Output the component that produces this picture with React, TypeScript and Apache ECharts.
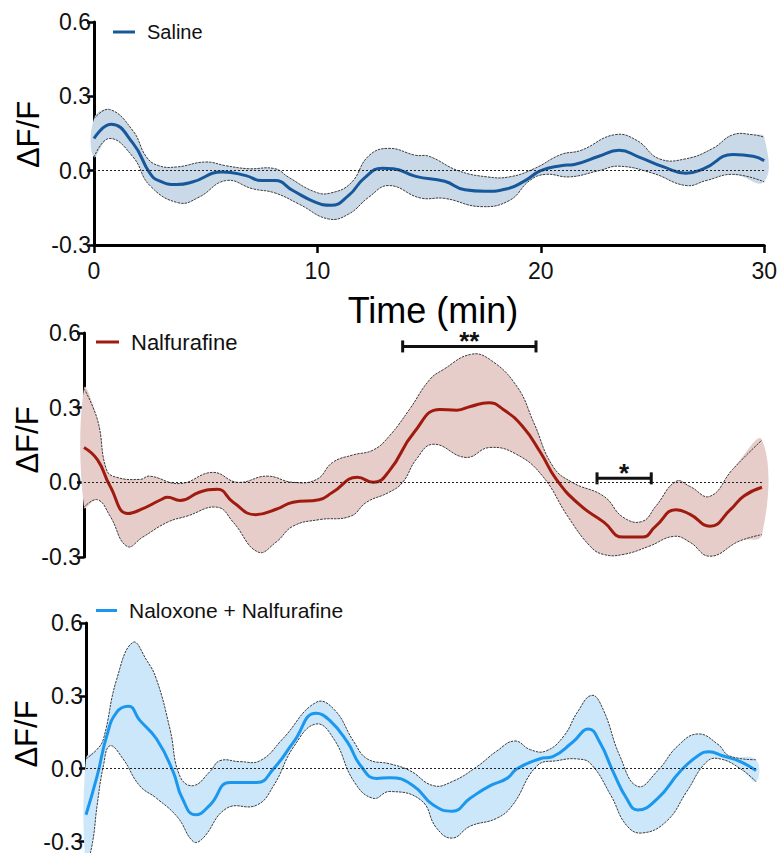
import React, { useEffect, useRef } from 'react';
import * as echarts from 'echarts';

// Time (min) / ΔF/F pairs for the group mean and the upper / lower SEM bounds
const salineMean = [
  [0, 0.13], [0.76, 0.187], [1.75, 0.11], [2.5, -0.01], [2.9, -0.04], [3.7, -0.056], [4.4, -0.046],
  [5.75, -0.005], [6.8, -0.02], [7.5, -0.04], [8.1, -0.04], [8.9, -0.08], [9.9, -0.127], [10.6, -0.14],
  [11.4, -0.1], [12.1, -0.03], [12.9, 0.01], [13.4, 0.008], [14.4, -0.023], [15.7, -0.043], [16.6, -0.077],
  [17.5, -0.083], [18.5, -0.073], [19.3, -0.04], [20.0, 0.0], [20.9, 0.02], [21.5, 0.025], [22.6, 0.058],
  [23.5, 0.082], [24.4, 0.055], [25.5, 0.015], [26.5, -0.01], [27.3, 0.008], [28.6, 0.065], [29.5, 0.058],
  [30, 0.04],
];
const salineUpper = [
  [0, 0.21], [0.7, 0.247], [1.75, 0.16], [2.35, 0.055], [2.9, 0.02], [3.7, 0.015], [5.0, 0.035],
  [5.9, 0.02], [6.9, 0.008], [8.1, 0.008], [8.7, -0.026], [9.9, -0.086], [10.6, -0.09], [11.5, -0.05],
  [12.3, 0.06], [13.2, 0.09], [14.4, 0.062], [15.0, 0.058], [16.3, 0.0], [17.6, -0.025], [18.6, -0.025],
  [19.7, 0.008], [20.9, 0.065], [21.8, 0.082], [23.3, 0.145], [24.3, 0.122], [25.3, 0.048], [26.5, 0.048],
  [27.7, 0.09], [28.6, 0.145], [29.5, 0.145], [30, 0.135],
];
const salineLower = [
  [0, 0.055], [0.7, 0.13], [1.75, 0.055], [2.5, -0.06], [3.8, -0.13], [4.7, -0.107], [5.9, -0.04],
  [7.1, -0.073], [8.1, -0.09], [9.2, -0.136], [10.5, -0.195], [11.4, -0.175], [12.3, -0.107], [13.2, -0.06],
  [14.6, -0.11], [15.7, -0.112], [17.3, -0.145], [18.6, -0.12], [19.5, -0.04], [20.2, -0.015], [21.3, -0.025],
  [22.6, 0.0], [23.5, 0.018], [25.0, -0.01], [26.5, -0.06], [27.4, -0.04], [28.6, -0.015], [30, -0.045],
];

const nalfurafineMean = [
  [0, 0.14], [0.6, 0.09], [1.15, -0.015], [1.95, -0.125], [2.5, -0.11], [3.4, -0.07], [3.7, -0.06],
  [4.25, -0.073], [5.1, -0.04], [5.9, -0.028], [6.6, -0.08], [7.6, -0.13], [8.5, -0.108], [9.25, -0.08],
  [10.4, -0.07], [11.0, -0.04], [12.1, 0.02], [12.8, 0.0], [13.5, 0.045], [14.6, 0.2], [15.75, 0.293],
  [16.5, 0.29], [17.1, 0.305], [17.9, 0.32], [18.55, 0.293], [19.4, 0.225], [20.2, 0.12], [20.9, 0.012],
  [21.9, -0.088], [23.0, -0.16], [23.85, -0.22], [24.7, -0.22], [25.3, -0.176], [26.2, -0.11], [26.8, -0.128],
  [27.7, -0.176], [28.6, -0.11], [29.2, -0.055], [30, -0.02],
];
const nalfurafineUpper = [
  [0, 0.377], [0.6, 0.25], [1.0, 0.05], [1.45, 0.02], [2.5, 0.012], [2.9, 0.025], [4.25, -0.005],
  [5.7, 0.04], [6.8, 0.0], [8.1, 0.025], [9.25, 0.0], [10.3, 0.012], [11.0, 0.08], [11.9, 0.11],
  [12.8, 0.13], [13.5, 0.185], [14.4, 0.293], [15.3, 0.413], [15.9, 0.453], [17.1, 0.514], [17.95, 0.494],
  [19.15, 0.386], [19.9, 0.24], [20.75, 0.064], [21.6, 0.0], [23.0, -0.056], [23.85, -0.14], [24.7, -0.157],
  [25.3, -0.096], [26.2, 0.004], [26.8, -0.016], [27.7, -0.056], [28.7, 0.052], [30, 0.17],
];
const nalfurafineLower = [
  [0, -0.1], [0.6, -0.07], [1.15, -0.135], [1.9, -0.257], [2.6, -0.22], [3.7, -0.16], [4.55, -0.136],
  [5.9, -0.1], [6.6, -0.16], [7.7, -0.28], [8.5, -0.24], [9.25, -0.176], [10.4, -0.15], [11.8, -0.136],
  [12.5, -0.08], [13.5, -0.04], [14.1, 0.0], [14.7, 0.092], [15.45, 0.153], [16.9, 0.1], [17.95, 0.14],
  [19.15, 0.112], [20.3, 0.024], [21.4, -0.136], [22.4, -0.257], [23.0, -0.29], [23.85, -0.29], [25.0, -0.257],
  [26.1, -0.217], [26.8, -0.24], [27.7, -0.297], [29.0, -0.236], [30, -0.21],
];

const naloxoneMean = [
  [0, -0.19], [0.5, -0.03], [0.93, 0.135], [1.37, 0.232], [1.9, 0.257], [2.4, 0.2], [3.16, 0.122],
  [3.9, -0.012], [4.3, -0.12], [4.9, -0.19], [5.55, -0.15], [6.45, -0.057], [7.65, -0.057], [8.4, 0.0],
  [9.3, 0.11], [10.3, 0.228], [10.9, 0.2], [11.7, 0.11], [12.3, 0.012], [13.0, -0.04], [13.6, -0.037],
  [14.65, -0.07], [15.55, -0.15], [16.4, -0.175], [17.2, -0.122], [18.1, -0.07], [18.85, -0.04], [19.3, 0.0],
  [20.3, 0.04], [20.9, 0.05], [21.8, 0.11], [22.5, 0.163], [23.0, 0.11], [23.6, -0.012], [24.2, -0.122],
  [24.7, -0.17], [25.6, -0.122], [26.6, -0.012], [27.4, 0.053], [27.9, 0.07], [28.5, 0.053], [29.3, 0.029],
  [30, -0.008],
];
const naloxoneUpper = [
  [0, 0.04], [0.5, 0.08], [0.78, 0.122], [1.37, 0.367], [2.1, 0.52], [2.7, 0.449], [3.16, 0.367],
  [3.76, 0.163], [4.2, -0.03], [4.8, -0.07], [5.55, -0.012], [6.0, 0.033], [6.9, 0.029], [7.8, 0.033],
  [8.8, 0.122], [10.3, 0.273], [11.1, 0.245], [12.0, 0.11], [12.6, 0.04], [13.6, 0.02], [14.5, -0.008],
  [15.55, -0.07], [16.4, -0.053], [17.5, 0.008], [18.4, 0.073], [19.2, 0.114], [19.9, 0.078], [20.6, 0.073],
  [21.4, 0.135], [22.0, 0.232], [22.65, 0.302], [23.15, 0.245], [23.9, 0.053], [24.7, -0.073], [25.6, -0.008],
  [26.5, 0.094], [27.4, 0.143], [28.3, 0.1], [28.8, 0.053], [30, 0.037],
];
const naloxoneLower = [
  [0, -0.42], [0.3, -0.3], [0.5, -0.15], [0.78, 0.012], [1.07, 0.094], [1.66, 0.04], [2.4, -0.07],
  [3.16, -0.122], [4.1, -0.2], [4.8, -0.3], [5.2, -0.29], [6.3, -0.163], [7.65, -0.15], [8.4, -0.07],
  [9.3, 0.09], [10.3, 0.184], [11.1, 0.122], [12.0, -0.053], [12.85, -0.122], [13.6, -0.094], [15.0, -0.13],
  [15.7, -0.245], [16.4, -0.286], [17.2, -0.237], [18.4, -0.204], [19.1, -0.15], [20.2, 0.012], [21.1, 0.033],
  [22.0, 0.04], [22.6, 0.02], [23.5, -0.11], [24.2, -0.233], [24.9, -0.265], [26.0, -0.216], [26.9, -0.094],
  [27.8, 0.029], [28.4, 0.04], [29.3, 0.0], [30, -0.053],
];

// Significance brackets on the Nalfurafine trace: [start min, end min, ΔF/F level]
const sigBrackets = [
  [14.1, 20.0, 0.546],
  [22.7, 25.1, 0.016],
];
const sigLabels = ['**', '*'];

const FONT = '"Liberation Sans", Arial, Helvetica, sans-serif';
const SMOOTH = 0.45;

const grids = [
  { left: 94, top: 22, width: 674, height: 223 },
  { left: 84, top: 333, width: 678, height: 224 },
  { left: 86, top: 623, width: 670, height: 220 },
];

function bandSeries(upper: number[][], lower: number[][], fill: string, idx: number) {
  return {
    type: 'custom',
    xAxisIndex: idx,
    yAxisIndex: idx,
    data: [[0, 0]],
    clip: false,
    silent: true,
    z: 1,
    renderItem: (_params: any, api: any) => {
      const up = upper.map((p) => api.coord(p));
      const lo = lower.map((p) => api.coord(p));
      const edge = { stroke: '#3c3c3c', lineWidth: 1, lineDash: [2.5, 1], fill: null };
      return {
        type: 'group',
        children: [
          {
            type: 'polygon',
            shape: { points: up.concat(lo.slice().reverse()), smooth: SMOOTH },
            style: { fill, stroke: null },
          },
          { type: 'polyline', shape: { points: up, smooth: SMOOTH }, style: edge },
          { type: 'polyline', shape: { points: lo, smooth: SMOOTH }, style: edge },
        ],
      };
    },
  };
}

function meanSeries(name: string, data: number[][], color: string, idx: number) {
  return {
    type: 'line',
    name,
    xAxisIndex: idx,
    yAxisIndex: idx,
    data,
    smooth: 0.5,
    showSymbol: false,
    symbol: 'none',
    clip: false,
    z: 3,
    lineStyle: { color, width: 3 },
    itemStyle: { color },
    markLine: {
      silent: true,
      symbol: ['none', 'none'],
      label: { show: false },
      lineStyle: { type: [2, 2], color: '#222', width: 1.2 },
      data: [{ yAxis: 0 }],
    },
  };
}

function yAxisFor(idx: number) {
  return {
    type: 'value',
    gridIndex: idx,
    min: -0.3,
    max: 0.6,
    interval: 0.3,
    axisLine: { show: true, onZero: false, lineStyle: { color: '#000', width: 3 } },
    axisTick: { show: true, length: 7, lineStyle: { color: '#000', width: 2.5 } },
    axisLabel: {
      fontSize: 23,
      color: '#111',
      fontFamily: FONT,
      margin: 3,
      formatter: (v: number) => v.toFixed(1),
    },
    splitLine: { show: false },
  };
}

function legendFor(name: string, left: number, top: number, width: number, fontSize: number) {
  return {
    data: [name],
    left,
    top,
    padding: 0,
    icon: 'rect',
    itemWidth: width,
    itemHeight: 3,
    selectedMode: false,
    textStyle: { fontSize, color: '#111', fontFamily: FONT, padding: [0, 0, 0, 7] },
  };
}

function yName(x: number, y: number) {
  return {
    type: 'text',
    x,
    y,
    rotation: Math.PI / 2,
    style: {
      text: 'ΔF/F',
      fontSize: 31,
      fontFamily: FONT,
      fill: '#000',
      align: 'center',
      verticalAlign: 'middle',
      textAlign: 'center',
      textVerticalAlign: 'middle',
    },
  };
}

export default function App() {
  const ref = useRef<HTMLDivElement>(null);

  useEffect(() => {
    if (!ref.current) return;
    const chart = echarts.init(ref.current, null, { renderer: 'svg' });

    const option: any = {
      animation: false,
      backgroundColor: '#fff',
      grid: grids,
      xAxis: [
        {
          type: 'value',
          gridIndex: 0,
          min: 0,
          max: 30,
          interval: 10,
          axisLine: { show: true, onZero: false, lineStyle: { color: '#000', width: 3 } },
          axisTick: { show: true, length: 8, lineStyle: { color: '#000', width: 2.5 } },
          axisLabel: { fontSize: 23, color: '#111', fontFamily: FONT, margin: 14 },
          splitLine: { show: false },
        },
        { type: 'value', gridIndex: 1, min: 0, max: 30, show: false },
        { type: 'value', gridIndex: 2, min: 0, max: 30, show: false },
      ],
      yAxis: [yAxisFor(0), yAxisFor(1), yAxisFor(2)],
      legend: [
        legendFor('Saline', 113, 22, 22, 20),
        legendFor('Nalfurafine', 96, 331, 23, 22),
        legendFor('Naloxone + Nalfurafine', 96, 600, 21, 21),
      ],
      graphic: [
        {
          type: 'text',
          x: 433,
          y: 310,
          style: {
            text: 'Time (min)',
            fontSize: 36,
            fontFamily: FONT,
            fill: '#000',
            align: 'center',
            verticalAlign: 'middle',
            textAlign: 'center',
            textVerticalAlign: 'middle',
          },
        },
        yName(28.5, 134.5),
        yName(27.5, 440),
        yName(26, 734),
      ],
      series: [
        bandSeries(salineUpper, salineLower, '#cad9e8', 0),
        meanSeries('Saline', salineMean, '#17589a', 0),
        bandSeries(nalfurafineUpper, nalfurafineLower, '#e7cdca', 1),
        meanSeries('Nalfurafine', nalfurafineMean, '#a01b0f', 1),
        bandSeries(naloxoneUpper, naloxoneLower, '#cce6fa', 2),
        meanSeries('Naloxone + Nalfurafine', naloxoneMean, '#1b98ee', 2),
        {
          type: 'custom',
          xAxisIndex: 1,
          yAxisIndex: 1,
          data: sigBrackets,
          clip: false,
          silent: true,
          z: 4,
          renderItem: (params: any, api: any) => {
            const a = api.coord([api.value(0), api.value(2)]);
            const b = api.coord([api.value(1), api.value(2)]);
            const st = { stroke: '#111', lineWidth: 3 };
            return {
              type: 'group',
              children: [
                { type: 'line', shape: { x1: a[0], y1: a[1], x2: b[0], y2: b[1] }, style: st },
                { type: 'line', shape: { x1: a[0], y1: a[1] - 6, x2: a[0], y2: a[1] + 6 }, style: st },
                { type: 'line', shape: { x1: b[0], y1: b[1] - 6, x2: b[0], y2: b[1] + 6 }, style: st },
                {
                  type: 'text',
                  x: (a[0] + b[0]) / 2,
                  y: a[1] - 5,
                  style: {
                    text: sigLabels[params.dataIndex],
                    fontSize: 26,
                    fontWeight: 'bold',
                    fontFamily: FONT,
                    fill: '#111',
                    align: 'center',
                    verticalAlign: 'middle',
                  },
                },
              ],
            };
          },
        },
      ],
    };

    chart.setOption(option);
    return () => chart.dispose();
  }, []);

  return (
    <div
      ref={ref}
      style={{ position: 'absolute', left: 0, top: 0, width: 780, height: 853, background: '#fff' }}
    />
  );
}
